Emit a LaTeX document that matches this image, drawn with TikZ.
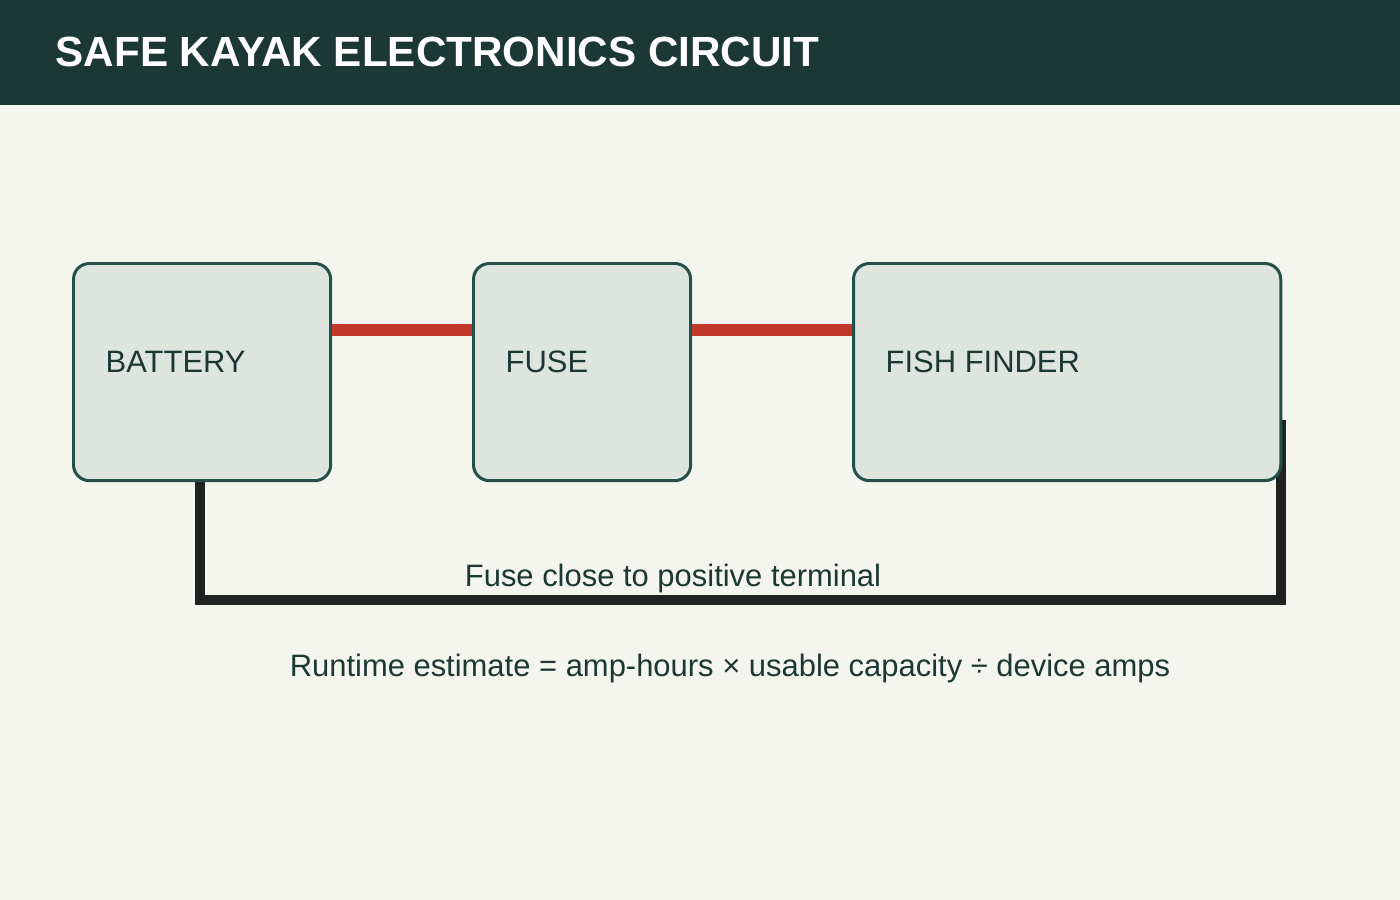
\documentclass[tikz,border=0pt]{standalone}
\usepackage{fontspec}
\setmainfont{Liberation Sans}
\usetikzlibrary{positioning}
\definecolor{hdr}{HTML}{1C3834}
\definecolor{bg}{HTML}{F5F5EF}
\definecolor{boxfill}{HTML}{DEE5DF}
\definecolor{boxline}{HTML}{24504A}
\definecolor{wirered}{HTML}{C0392B}
\definecolor{wireblk}{HTML}{1E2221}
\definecolor{txt}{HTML}{1C3834}
\tikzset{
  part/.style={draw=boxline, fill=boxfill, line width=0.85pt, rounded corners=4.5pt, anchor=north west},
  lbl/.style={text=txt, font=\fontsize{8.8}{10}\selectfont, anchor=west, inner sep=0pt},
  pos wire/.style={wirered, line width=3.4pt},
  neg wire/.style={wireblk, line width=2.9pt}
}
\begin{document}
\begin{tikzpicture}[x=0.01cm, y=-0.01cm]
\fill[bg] (0,0) rectangle (1400,900);
\fill[hdr] (0,0) rectangle (1400,105);
\node[anchor=west, text=white, font=\bfseries\fontsize{12}{14}\selectfont, inner sep=0pt] (title) at (55,52) {SAFE KAYAK ELECTRONICS CIRCUIT};
% wires behind boxes
\coordinate (bat) at (200,470);
\coordinate (cornerL) at (200,600);
\coordinate (cornerR) at (1281,600);
\coordinate (ffin) at (1281,420);
\draw[neg wire] (bat) -- (cornerL) -- (cornerR) -- (ffin);
\node[part, minimum width=257\pgflinewidth, minimum width=2.57cm, minimum height=2.17cm] (battery) at (72,262) {};
\node[part, minimum width=2.17cm, minimum height=2.17cm] (fuse) at (472,262) {};
\node[part, minimum width=4.27cm, minimum height=2.17cm] (finder) at (852,262) {};
\draw[pos wire] (battery.east |- 0,330) -- (fuse.west |- 0,330);
\draw[pos wire] (fuse.east |- 0,330) -- (finder.west |- 0,330);
\node[lbl] (batlbl) at (105,362) {BATTERY};
\node[lbl] (fuselbl) at (505,362) {FUSE};
\node[lbl] (fflbl) at (885,362) {FISH FINDER};
\node[text=txt, font=\fontsize{8.8}{10}\selectfont, inner sep=0pt] (note) at (673,578) {Fuse close to positive terminal};
\node[text=txt, font=\fontsize{8.8}{10}\selectfont, inner sep=0pt] (runtime) at (730,668) {Runtime estimate = amp-hours × usable capacity ÷ device amps};
\end{tikzpicture}
\end{document}
